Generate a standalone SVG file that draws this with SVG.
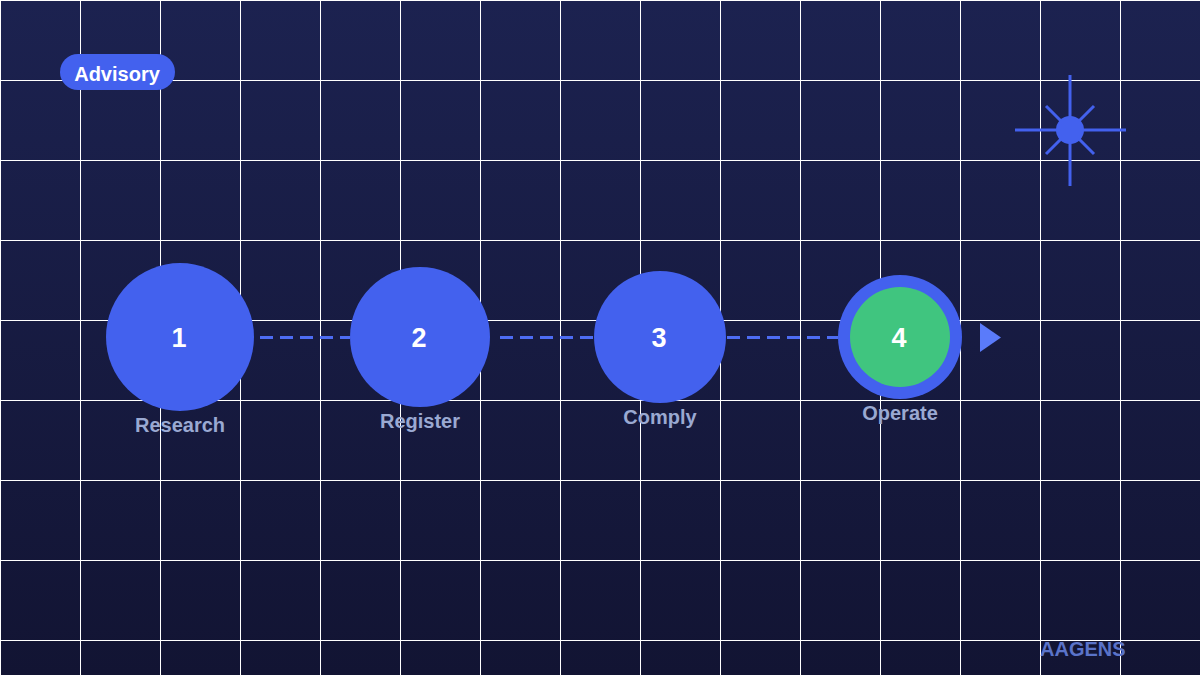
<svg xmlns="http://www.w3.org/2000/svg" width="1200" height="675" viewBox="0 0 1200 675">
<defs>
<linearGradient id="bg" x1="0" y1="0" x2="0" y2="1">
<stop offset="0" stop-color="#1c2250"/>
<stop offset="1" stop-color="#121433"/>
</linearGradient>
<pattern id="grid" x="0" y="0" width="80" height="80" patternUnits="userSpaceOnUse">
<path d="M0.5 0V80M0 0.5H80" stroke="#ffffff" stroke-width="1" fill="none"/>
</pattern>
<style>
.step{fill:#4361ee}
.num{font-family:"Liberation Sans",Arial,sans-serif;font-weight:bold;font-size:27px;fill:#ffffff;text-anchor:middle}
.lbl{font-family:"Liberation Sans",Arial,sans-serif;font-weight:bold;font-size:20px;fill:#9aa9d2;text-anchor:middle}
.dash{stroke:#4d6cf2;stroke-width:3;stroke-dasharray:13 7;fill:none}
.star{stroke:#4361ee;stroke-width:3}
</style>
</defs>
<rect width="1200" height="675" fill="url(#bg)"/>
<rect width="1200" height="675" fill="url(#grid)"/>
<g id="connectors">
<line class="dash" x1="260" y1="337.5" x2="350" y2="337.5"/>
<line class="dash" x1="500" y1="337.5" x2="594" y2="337.5"/>
<line class="dash" x1="727" y1="337.5" x2="838" y2="337.5"/>
<polygon points="980,323 1001,337.5 980,352" fill="#5a7bfa"/>
</g>
<g id="badge">
<rect x="60" y="54" width="115" height="36" rx="18" fill="#4361ee"/>
<text x="117" y="81" font-family="Liberation Sans,Arial,sans-serif" font-weight="bold" font-size="20" fill="#ffffff" text-anchor="middle">Advisory</text>
</g>
<g id="sparkle">
<line class="star" x1="1015" y1="130" x2="1126" y2="130"/>
<line class="star" x1="1070" y1="75" x2="1070" y2="186"/>
<line class="star" x1="1046" y1="106" x2="1094" y2="154"/>
<line class="star" x1="1094" y1="106" x2="1046" y2="154"/>
<circle cx="1070" cy="130" r="14" fill="#4361ee"/>
</g>
<g id="step1">
<circle class="step" cx="180" cy="337" r="74"/>
<text class="num" x="179" y="347">1</text>
<text class="lbl" x="180" y="432">Research</text>
</g>
<g id="step2">
<circle class="step" cx="420" cy="337" r="70"/>
<text class="num" x="419" y="347">2</text>
<text class="lbl" x="420" y="428">Register</text>
</g>
<g id="step3">
<circle class="step" cx="660" cy="337" r="66"/>
<text class="num" x="659" y="347">3</text>
<text class="lbl" x="660" y="424">Comply</text>
</g>
<g id="step4">
<circle class="step" cx="900" cy="337" r="62"/>
<circle cx="900" cy="337" r="50" fill="#40c57f"/>
<text class="num" x="899" y="347">4</text>
<text class="lbl" x="900" y="420">Operate</text>
</g>
<text x="1040" y="656" font-family="Liberation Sans,Arial,sans-serif" font-weight="bold" font-size="20" fill="#5a73c9">AAGENS</text>
</svg>
